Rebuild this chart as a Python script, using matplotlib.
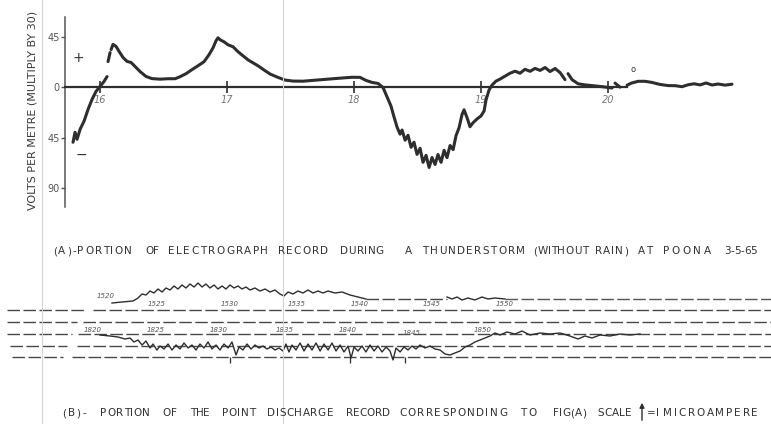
import numpy as np
import matplotlib.pyplot as plt
from matplotlib.lines import Line2D

nan = np.nan

# (A) electrograph trace: time (hours) and field (volts per metre, x30); nan = pen lifted
hours_a = [15.787, 15.803, 15.819, 15.843, 15.874, 15.906, 15.937, 15.969, 16.000, 16.031, 16.055, nan,
           16.063, 16.079, nan,
           16.087, 16.102, 16.126, 16.150, 16.181, 16.213, 16.244, 16.276, 16.315, 16.362, 16.409, 16.472,
           16.535, 16.591, 16.630, 16.677, 16.724, 16.772, 16.819, 16.858, 16.890, 16.913, 16.929, 16.945,
           16.976, 17.008, 17.047, 17.087, 17.126, 17.165, 17.205, 17.244, 17.291, 17.339, 17.394, 17.457,
           17.520, 17.598, 17.693, 17.795, 17.890, 17.984, 18.047, 18.094, 18.142, 18.189, 18.228, 18.260,
           18.291, 18.315, 18.339, 18.362, 18.378, 18.402, 18.425, 18.449, 18.472, 18.496, 18.520, 18.543,
           18.567, 18.591, 18.614, 18.638, 18.661, 18.685, 18.709, 18.732, 18.756, 18.780, 18.803, 18.827,
           18.850, 18.866, 18.890, 18.913, 18.937, 18.969, 19.000, 19.024, 19.039, 19.063, 19.087, 19.118,
           19.150, 19.189, 19.228, 19.268, 19.307, 19.346, 19.386, 19.425, 19.465, 19.504, 19.543, 19.583,
           19.622, 19.661, nan,
           19.685, 19.717, 19.764, 19.819, 19.898, 19.976, 20.031, nan,
           20.055, 20.094, nan,
           20.150, 20.181, 20.236, 20.291, 20.346, 20.409, 20.472, 20.528, 20.583, 20.630, 20.677, 20.724,
           20.772, 20.819, 20.866, 20.921, 20.976]
field_a = [-48.8, -39.9, -46.2, -37.2, -30.0, -19.4, -10.6, -3.4, 0.9, 5.3, 9.7, nan,
           23.1, 31.1, nan,
           33.8, 38.4, 36.6, 32.1, 26.7, 23.2, 22.3, 18.7, 14.2, 9.8, 7.9, 7.4,
           7.8, 7.8, 9.6, 12.3, 15.9, 19.4, 23.0, 29.2, 35.4, 41.6, 44.3, 42.5,
           40.7, 38.0, 36.3, 31.8, 28.2, 24.6, 21.9, 19.3, 15.6, 12.0, 9.3, 6.6,
           5.7, 5.6, 6.5, 7.4, 8.3, 9.1, 9.0, 6.3, 4.5, 3.6, 0.0, -8.5,
           -16.6, -26.4, -35.4, -41.6, -37.9, -47.0, -42.6, -53.3, -48.8, -59.6, -54.2, -66.7,
           -60.5, -71.3, -62.4, -68.6, -59.7, -66.7, -56.0, -62.5, -51.7, -55.4, -42.9, -35.8,
           -24.2, -19.9, -27.0, -35.0, -31.4, -28.0, -25.3, -20.9, -11.1, -2.2, 2.2, 5.7,
           7.5, 10.1, 12.7, 14.5, 12.7, 16.2, 14.4, 17.0, 15.2, 17.8, 14.2, 16.9,
           13.3, 7.0, nan,
           12.3, 6.9, 3.3, 2.3, 1.4, 0.4, -0.5, nan,
           3.9, 0.3, nan,
           2.0, 3.8, 5.5, 5.5, 4.5, 2.7, 1.7, 1.6, 0.7, 2.4, 3.3, 2.3,
           4.0, 2.2, 3.1, 2.1, 2.9]

hour_ticks = [16, 17, 18, 19, 20]
field_ticks = [45, 0, -45, -90]
field_labels = ['45', '0', '45', '90']

# (B) point discharge record: minutes after the 1520 / 1820 marks, deflection in microamperes
upper_min = [1.07, 1.84, 2.68, 3.06, 3.37, 3.67, 3.98, 4.28, 4.59, 4.90, 5.20, 5.51, 5.81, 6.12, 6.43,
             6.73, 7.04, 7.35, 7.65, 7.96, 8.26, 8.57, 8.88, 9.18, 9.49, 9.79, 10.10, 10.41, 10.71,
             11.02, 11.32, 11.63, 12.01, 12.39, 12.78, 13.16, 13.54, 13.92, 14.23, 14.54, 14.92, 15.30,
             15.68, 16.07, 16.45, 16.83, 17.21, 17.60, 18.13, 18.67, 19.28, 19.89, 20.50, nan,
             26.70, 27.09, 27.47, 27.85, 28.31, 28.84, 29.38, 29.84, 30.37, 31.14]
upper_ua = [-0.20, -0.15, -0.10, 0.05, 0.25, 0.20, 0.40, 0.30, 0.50, 0.35, 0.55, 0.45, 0.65, 0.50, 0.70,
            0.55, 0.75, 0.60, 0.80, 0.60, 0.75, 0.55, 0.70, 0.50, 0.65, 0.50, 0.70, 0.55, 0.65,
            0.50, 0.60, 0.45, 0.55, 0.40, 0.50, 0.35, 0.45, 0.25, 0.15, 0.35, 0.25, 0.40,
            0.30, 0.45, 0.30, 0.40, 0.30, 0.40, 0.30, 0.35, 0.20, 0.10, 0.00, nan,
            0.10, 0.00, 0.10, -0.05, 0.05, -0.05, 0.10, 0.00, 0.05, 0.00]
upper_base = 1.75

lower_min = [0.15, 0.92, 1.53, 2.07, 2.45, 2.75, 3.06, 3.37, 3.67, 3.98, 4.21, 4.51, 4.74, 5.05, 5.36,
             5.66, 5.97, 6.27, 6.58, 6.89, 7.19, 7.50, 7.80, 8.11, 8.42, 8.72, 9.03, 9.33, 9.64, 9.95,
             10.25, 10.56, 10.79, 11.09, 11.40, 11.71, 12.01, 12.32, 12.62, 12.93, 13.24, 13.54, 13.85,
             14.15, 14.38, 14.61, 14.84, 15.15, 15.46, 15.76, 16.07, 16.37, 16.68, 16.99, 17.29, 17.60,
             17.90, 18.21, 18.52, 18.82, 19.13, 19.36, 19.59, 19.89, 20.20, 20.50, 20.81, 21.12, 21.42,
             21.73, 22.04, 22.34, 22.57, 22.80, 23.11, 23.41, 23.72, 24.02, 24.33, 24.64, 25.02, 25.40,
             25.78, 26.17, 26.55, 26.93, 27.31, 27.70, 28.08, 28.46, 28.84, 29.23, 29.61, 29.99, 30.37,
             30.76, 31.29, 31.90, 32.44, 33.05, 33.82, 34.58, 35.35, 36.11, 36.73, 37.26, 37.80, 38.41,
             39.17, 39.94, 40.70, 41.47]
lower_ua = [-0.05, -0.10, -0.15, -0.25, -0.20, -0.40, -0.30, -0.55, -0.35, -0.70, -0.50, -0.80, -0.60, -0.75, -0.50,
            -0.80, -0.55, -0.75, -0.45, -0.70, -0.55, -0.80, -0.50, -0.70, -0.40, -0.75, -0.55, -0.80, -0.50, -0.70,
            -0.40, -1.05, -0.65, -0.80, -0.50, -0.75, -0.55, -0.70, -0.60, -0.75, -0.65, -0.80, -0.70,
            -0.85, -0.50, -0.90, -0.55, -0.80, -0.45, -0.85, -0.50, -0.80, -0.45, -0.85, -0.50, -0.80,
            -0.45, -0.85, -0.55, -0.90, -0.60, -1.20, -0.65, -0.85, -0.60, -0.90, -0.55, -0.85, -0.60,
            -0.90, -0.65, -0.85, -1.30, -0.70, -0.90, -0.65, -0.80, -0.60, -0.75, -0.55, -0.70, -0.60,
            -0.75, -0.80, -1.00, -1.05, -0.95, -0.85, -0.65, -0.55, -0.40, -0.30, -0.20, -0.10, 0.05,
            -0.05, 0.10, 0.00, 0.15, -0.05, 0.05, 0.00, 0.05, -0.10, -0.25, -0.10, -0.20, -0.05,
            -0.10, 0.00, -0.05, 0.00]
lower_base = 0.0

upper_marks = ['1520', '1525', '1530', '1535', '1540', '1545', '1550']
upper_mark_min = [0.6, 4.5, 10.1, 15.2, 20.0, 25.5, 31.1]
lower_marks = ['1820', '1825', '1830', '1835', '1840', '1845', '1850']
lower_mark_min = [-0.4, 4.4, 9.2, 14.3, 19.1, 24.0, 29.4]

# chart paper rulings (microamperes) with the pen gap near the left edge
chart_levels = [1.2, 0.6, 0.0, -0.6, -1.15]
chart_starts = [-6.96, -6.96, -6.96, -6.73, -6.58]
chart_gaps = [(-0.99, -0.38), (-1.61, -1.15), (-1.99, -1.53), (-2.37, -1.61), (-2.68, -1.99)]
pulse_min = [10.1, 19.28, 23.5]

W, H = 771, 424
INK = '#2e2e2e'
TXT = '#333333'


def fx(x):
    return x / W


def fy(y):
    return 1 - y / H


fig = plt.figure(figsize=(W / 100, H / 100), dpi=100)
fig.patch.set_facecolor('white')
renderer = fig.canvas.get_renderer()


def text_width(s, size):
    if not s:
        return 0.0
    t = fig.text(0, 0, s, fontsize=size)
    w = t.get_window_extent(renderer).width
    t.remove()
    return w


def advance(s, size):
    # width of s up to where the next glyph would start (measured against a trailing 'I')
    if not s:
        return 0.0
    return text_width(s + 'I', size) - text_width('I', size)


def spaced_word(word, x0, x1, y, size=7.5):
    """Caption word letter-spaced to run from pixel column x0 to x1 (baseline y)."""
    track = 0.0
    if x1 is not None and len(word) > 1:
        track = (x1 - x0 - text_width(word, size)) / (len(word) - 1)
        track = min(max(track, -0.4), 2.5)
    for k, ch in enumerate(word):
        x = x0 + advance(word[:k], size) + k * track
        fig.text(fx(x), fy(y), ch, ha='left', va='baseline', fontsize=size, color=TXT)


# ---------------- (A) electrograph ----------------
ax = fig.add_axes([fx(65), fy(207), (W - 65) / W, (207 - 17) / H])
ax.set_facecolor('none')
ax.set_xlim(15.724, 21.283)
ax.set_ylim(-106.5, 62.8)
ax.plot(hours_a, field_a, color=INK, lw=2.2, solid_capstyle='round', solid_joinstyle='round')

for s in ['top', 'right']:
    ax.spines[s].set_visible(False)
ax.spines['left'].set_color('#555555')
ax.spines['left'].set_linewidth(1.1)
ax.spines['bottom'].set_position(('data', 0))
ax.spines['bottom'].set_bounds(15.724, 20.15)
ax.spines['bottom'].set_color(INK)
ax.spines['bottom'].set_linewidth(1.6)

ax.set_xticks(hour_ticks)
ax.set_xticklabels([str(h) for h in hour_ticks], fontsize=7, color='#777777', style='italic')
ax.tick_params(axis='x', direction='inout', length=9, width=1.2, color=INK, pad=1)
ax.set_yticks(field_ticks)
ax.set_yticklabels(field_labels, fontsize=7, color='#555555')
ax.tick_params(axis='y', direction='out', length=3, width=1.0, color='#555555', pad=1)

ax.text(15.827, 26.7, '+', fontsize=10, color=TXT, ha='center', va='center')
ax.text(15.85, -60, '\u2212', fontsize=10, color=TXT, ha='center', va='center')
ax.text(20.197, 16, 'o', fontsize=6, color=TXT, ha='center', va='center')

fig.text(fx(33), fy(110), 'VOLTS PER METRE (MULTIPLY BY 30)', rotation=90,
         ha='center', va='center', fontsize=8, color='#3a3a3a')

# ---------------- (B) point discharge ----------------
bx = fig.add_axes([0, fy(375), 1, 100 / H])
bx.set_xlim(-7.498, 51.49)
bx.set_ylim(-2.05, 2.95)
bx.axis('off')

dash = (0, (9, 2.5))
for lev, x0, (g0, g1) in zip(chart_levels, chart_starts, chart_gaps):
    bx.plot([x0, g0], [lev, lev], color='#484848', lw=1.0, ls=dash)
    bx.plot([g1, 51.5], [lev, lev], color='#484848', lw=1.0, ls=dash)

bx.plot(upper_min, np.array(upper_ua) + upper_base, color=INK, lw=1.0)
bx.plot([20.5, 26.7], [upper_base, upper_base], color='#444444', lw=1.0, ls=dash)
bx.plot([31.14, 51.5], [upper_base, upper_base], color='#555555', lw=1.0, ls=dash)
bx.plot(lower_min, np.array(lower_ua) + lower_base, color=INK, lw=1.0)
bx.vlines(pulse_min, -1.15, -1.45, color=INK, lw=0.9)

for i, (lab, m) in enumerate(zip(upper_marks, upper_mark_min)):
    bx.text(m, 1.9 if i == 0 else 1.52, lab, fontsize=5, style='italic', color='#555555',
            ha='center', va='center')
for lab, m in zip(lower_marks, lower_mark_min):
    bx.text(m, 0.05 if lab == '1845' else 0.22, lab, fontsize=5, style='italic', color='#555555',
            ha='center', va='center')

# ---------------- captions ----------------
cap_a = [('(A)-PORTION', 53, 132), ('OF', 145, 156), ('ELECTROGRAPH', 168, 268), ('RECORD', 278, 328),
         ('DURING', 340, 384), ('A', 405, None), ('THUNDERSTORM', 422, 525), ('(WITHOUT', 533, 588),
         ('RAIN)', 595, 628), ('AT', 638, 652), ('POONA', 663, 718), ('3-5-65', 724, 757)]
for word, x0, x1 in cap_a:
    spaced_word(word, x0, x1, 254)

cap_b = [('(B)-', 62, 86), ('PORTION', 100, 150), ('OF', 162, 177), ('THE', 190, 210), ('POINT', 222, 255),
         ('DISCHARGE', 267, 333), ('RECORD', 346, 390), ('CORRESPONDING', 399, 507), ('TO', 520, 537),
         ('FIG(A)', 553, 586), ('SCALE', 597, 632), ('=', 647, None), ('I', 656, None),
         ('MICROAMPERE', 663, 758)]
for word, x0, x1 in cap_b:
    spaced_word(word, x0, x1, 416)
bx.annotate('', xy=(fx(642), fy(400)), xytext=(fx(642), fy(423)), xycoords='figure fraction',
            textcoords='figure fraction',
            arrowprops=dict(arrowstyle='-|>', lw=1.0, color=INK, mutation_scale=7))

# faint creases across the sheet
for xc in (42, 283):
    fig.add_artist(Line2D([fx(xc), fx(xc)], [0, 1], transform=fig.transFigure, color='#d4d4d4', lw=0.8))

fig.savefig('out.png', dpi=100)
